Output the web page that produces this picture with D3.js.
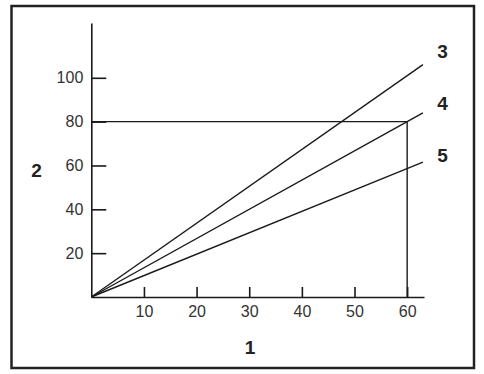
<!DOCTYPE html>
<html>
<head>
<meta charset="utf-8">
<script src="https://cdn.jsdelivr.net/npm/d3@7"></script>
<style>
  body { margin: 0; background: #fff; }
  svg { display: block; }
</style>
</head>
<body>
<svg id="chart"></svg>
<script>
// chart values
const xTicks = [10, 20, 30, 40, 50, 60];
const yTicks = [20, 40, 60, 80, 100];
const seriesNames = ['3', '4', '5'];
const seriesEndX = [63, 63, 63];
const seriesEndY = [106, 84, 61.5];
const boxCorner = [60, 80];
const xLabel = '1';
const yLabel = '2';

const width = 484;
const height = 374;
const font = 'Liberation Sans, Arial, sans-serif';

const svg = d3.select('#chart')
    .attr('width', width)
    .attr('height', height);

// outer frame
svg.append('rect')
    .attr('x', 11.5)
    .attr('y', 6)
    .attr('width', 462.5)
    .attr('height', 362)
    .attr('fill', 'none')
    .attr('stroke', '#222')
    .attr('stroke-width', 2.5);

const x = d3.scaleLinear().domain([0, 63.2]).range([91.3, 424]);
const y = d3.scaleLinear().domain([0, 125]).range([297, 23]);

const axisColor = '#1a1a1a';

// y axis, ticks point inward
const yAxis = svg.append('g')
    .attr('transform', `translate(${x(0)},0)`)
    .call(d3.axisLeft(y)
        .tickValues(yTicks)
        .tickSizeInner(-15)
        .tickSizeOuter(0)
        .tickPadding(8));

// x axis, ticks point up
const xAxis = svg.append('g')
    .attr('transform', `translate(0,${y(0)})`)
    .call(d3.axisBottom(x)
        .tickValues(xTicks)
        .tickSizeInner(-10)
        .tickSizeOuter(0)
        .tickPadding(9));

[xAxis, yAxis].forEach(g => {
    g.attr('font-family', font).attr('font-size', 16);
    g.select('.domain').attr('stroke', axisColor).attr('stroke-width', 1.6);
    g.selectAll('.tick line').attr('stroke', axisColor).attr('stroke-width', 1.6);
    g.selectAll('.tick text').attr('fill', '#333');
});

// box to (60, 80)
svg.append('path')
    .attr('d', d3.line()([
        [x(0), y(boxCorner[1])],
        [x(boxCorner[0]), y(boxCorner[1])],
        [x(boxCorner[0]), y(0)]
    ]))
    .attr('fill', 'none')
    .attr('stroke', axisColor)
    .attr('stroke-width', 1.4);

// the three lines from origin
const line = d3.line().x(d => x(d[0])).y(d => y(d[1]));
const labelShift = [-13, -10, -7];
seriesNames.forEach((name, i) => {
    svg.append('path')
        .attr('d', line([[0, 0], [seriesEndX[i], seriesEndY[i]]]))
        .attr('fill', 'none')
        .attr('stroke', axisColor)
        .attr('stroke-width', 1.4);

    svg.append('text')
        .attr('x', 442.5)
        .attr('y', y(seriesEndY[i]) + labelShift[i])
        .attr('dy', '0.35em')
        .attr('text-anchor', 'middle')
        .style('font-family', font)
        .style('font-size', '19px')
        .style('font-weight', 'bold')
        .attr('fill', '#222')
        .text(name);
});

// axis titles
function title(txt, tx, ty) {
    svg.append('text')
        .attr('x', tx)
        .attr('y', ty)
        .attr('dy', '0.35em')
        .attr('text-anchor', 'middle')
        .style('font-family', font)
        .style('font-size', '19px')
        .style('font-weight', 'bold')
        .attr('fill', '#222')
        .text(txt);
}
title(xLabel, 250, 347);
title(yLabel, 36.5, 170);
</script>
</body>
</html>
